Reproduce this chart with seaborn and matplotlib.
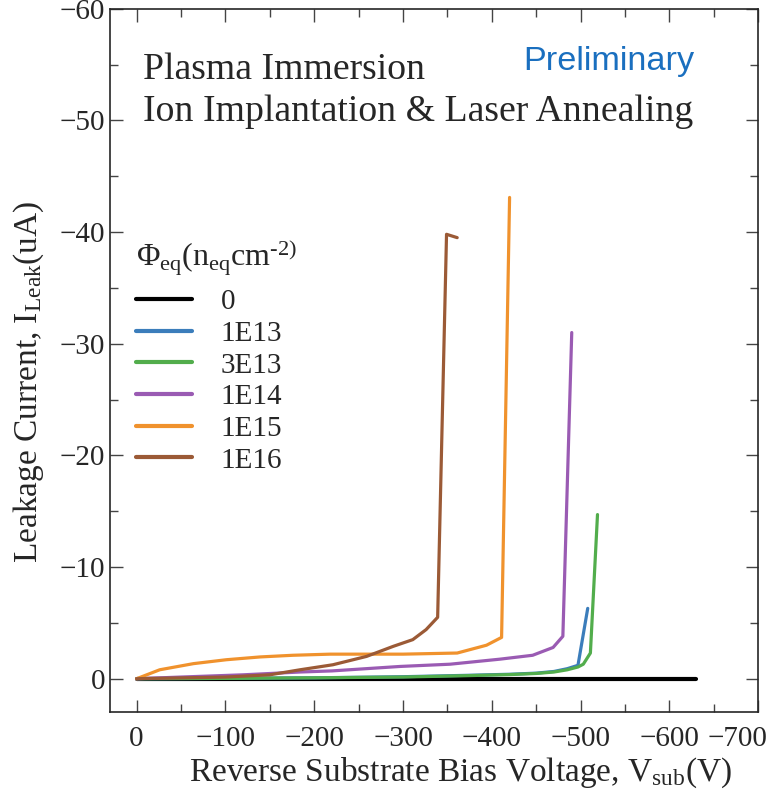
import matplotlib
matplotlib.use("Agg")
import matplotlib.pyplot as plt
from matplotlib.ticker import MultipleLocator
from matplotlib.transforms import ScaledTranslation
import seaborn as sns
import pandas as pd

# ---- data ----
fluences = ["0", "1E13", "3E13", "1E14", "1E15", "1E16"]
colors = ["#000000", "#3b7dbb", "#52ad4c", "#9a5bb3", "#f0922d", "#9b5a36"]

v_0 = [0, -630]
i_0 = [0, 0]

v_1e13 = [0, -100, -200, -300, -370, -420, -450, -470, -485, -497, -508]
i_1e13 = [0, -0.03, -0.08, -0.18, -0.3, -0.4, -0.5, -0.65, -0.9, -1.2, -6.3]

v_3e13 = [0, -100, -200, -300, -370, -420, -450, -470, -485, -497, -503, -511, -519]
i_3e13 = [0, -0.03, -0.08, -0.15, -0.27, -0.37, -0.47, -0.6, -0.8, -1.05, -1.3, -2.3, -14.7]

v_1e14 = [0, -50, -120, -184, -220, -297, -353, -409, -446, -469, -480, -490]
i_1e14 = [0, -0.15, -0.35, -0.6, -0.7, -1.1, -1.3, -1.75, -2.1, -2.8, -3.8, -31.0]

v_1e15 = [0, -26, -64, -101, -139, -176, -218, -300, -361, -394, -411, -420]
i_1e15 = [0, -0.8, -1.35, -1.7, -1.95, -2.1, -2.2, -2.2, -2.3, -3.0, -3.7, -43.1]

v_1e16 = [0, -100, -150, -184, -221, -259, -289, -311, -326, -339, -349, -361]
i_1e16 = [0, -0.15, -0.35, -0.8, -1.25, -2.0, -2.9, -3.5, -4.4, -5.5, -39.8, -39.5]

x_ticks = [0, -100, -200, -300, -400, -500, -600, -700]
y_ticks = [0, -10, -20, -30, -40, -50, -60]

series = [(v_0, i_0), (v_1e13, i_1e13), (v_3e13, i_3e13),
          (v_1e14, i_1e14), (v_1e15, i_1e15), (v_1e16, i_1e16)]

frames = []
for name, (v, i) in zip(fluences, series):
    frames.append(pd.DataFrame({"V": v, "I": i, "fluence": name}))
df = pd.concat(frames, ignore_index=True)

# ---- style ----
sns.set_style("ticks")
plt.rcParams["font.family"] = ["Liberation Serif", "DejaVu Serif"]
plt.rcParams["mathtext.fontset"] = "custom"
plt.rcParams["mathtext.rm"] = "Liberation Serif"
plt.rcParams["mathtext.it"] = "Liberation Serif:italic"
plt.rcParams["axes.linewidth"] = 1.2

fig = plt.figure(figsize=(7.69, 7.94), dpi=100)
ax = fig.add_axes([0.143, 0.103, 0.843, 0.886])

palette = dict(zip(fluences, colors))
sns.lineplot(data=df, x="V", y="I", hue="fluence", hue_order=fluences,
             palette=palette, sort=False, estimator=None, linewidth=2.3,
             ax=ax, legend=True)
ax.get_lines()[0].set_linewidth(3)

ax.set_xlim(30, -700)
ax.set_ylim(3, -60)
ax.set_xticks(x_ticks)
ax.set_yticks(y_ticks)
ax.xaxis.set_minor_locator(MultipleLocator(50))
ax.yaxis.set_minor_locator(MultipleLocator(5))
ax.tick_params(which="both", direction="in", top=True, right=True,
               labelsize=21, width=1.0, color="#444444")
ax.tick_params(which="major", length=9)
ax.tick_params(which="minor", length=6)
ax.tick_params(axis="x", pad=10)

# last x tick label sits slightly left, as in the reference
fig.canvas.draw()
last = ax.get_xticklabels()[-1]
last.set_transform(last.get_transform() + ScaledTranslation(-21 / 100, 0, fig.dpi_scale_trans))

ax.set_xlabel(r"Reverse Substrate Bias Voltage, V$_{\rm sub}$(V)", fontsize=24)
ax.set_ylabel(r"Leakage Current, I$_{\rm Leak}$(uA)", fontsize=24)
ax.xaxis.set_label_coords(0.54, -0.062)
ax.yaxis.set_label_coords(-0.098, 0.47)

ax.text(0.051, 0.913, "Plasma Immersion", transform=ax.transAxes,
        fontsize=27.2, va="center", ha="left")
ax.text(0.051, 0.854, "Ion Implantation & Laser Annealing", transform=ax.transAxes,
        fontsize=27.2, va="center", ha="left")
ax.text(0.77, 0.925, "Preliminary", transform=ax.transAxes, fontsize=24.7,
        va="center", ha="center", color="#1a6fbf", family="Liberation Sans")

handles, labels = ax.get_legend_handles_labels()
for h in handles:
    h.set_linewidth(3)
leg = ax.legend(handles, labels,
                title=r"$\Phi_{\rm eq}$(n$_{\rm eq}$cm$^{\rm \text{-2)}}$",
                loc="upper left", bbox_to_anchor=(0.0, 0.712), frameon=False,
                fontsize=21, title_fontsize=23, handlelength=1.9,
                handletextpad=1.0, labelspacing=0.18, alignment="left")
leg._legend_box.sep = 8

fig.savefig("out.png", dpi=100)
